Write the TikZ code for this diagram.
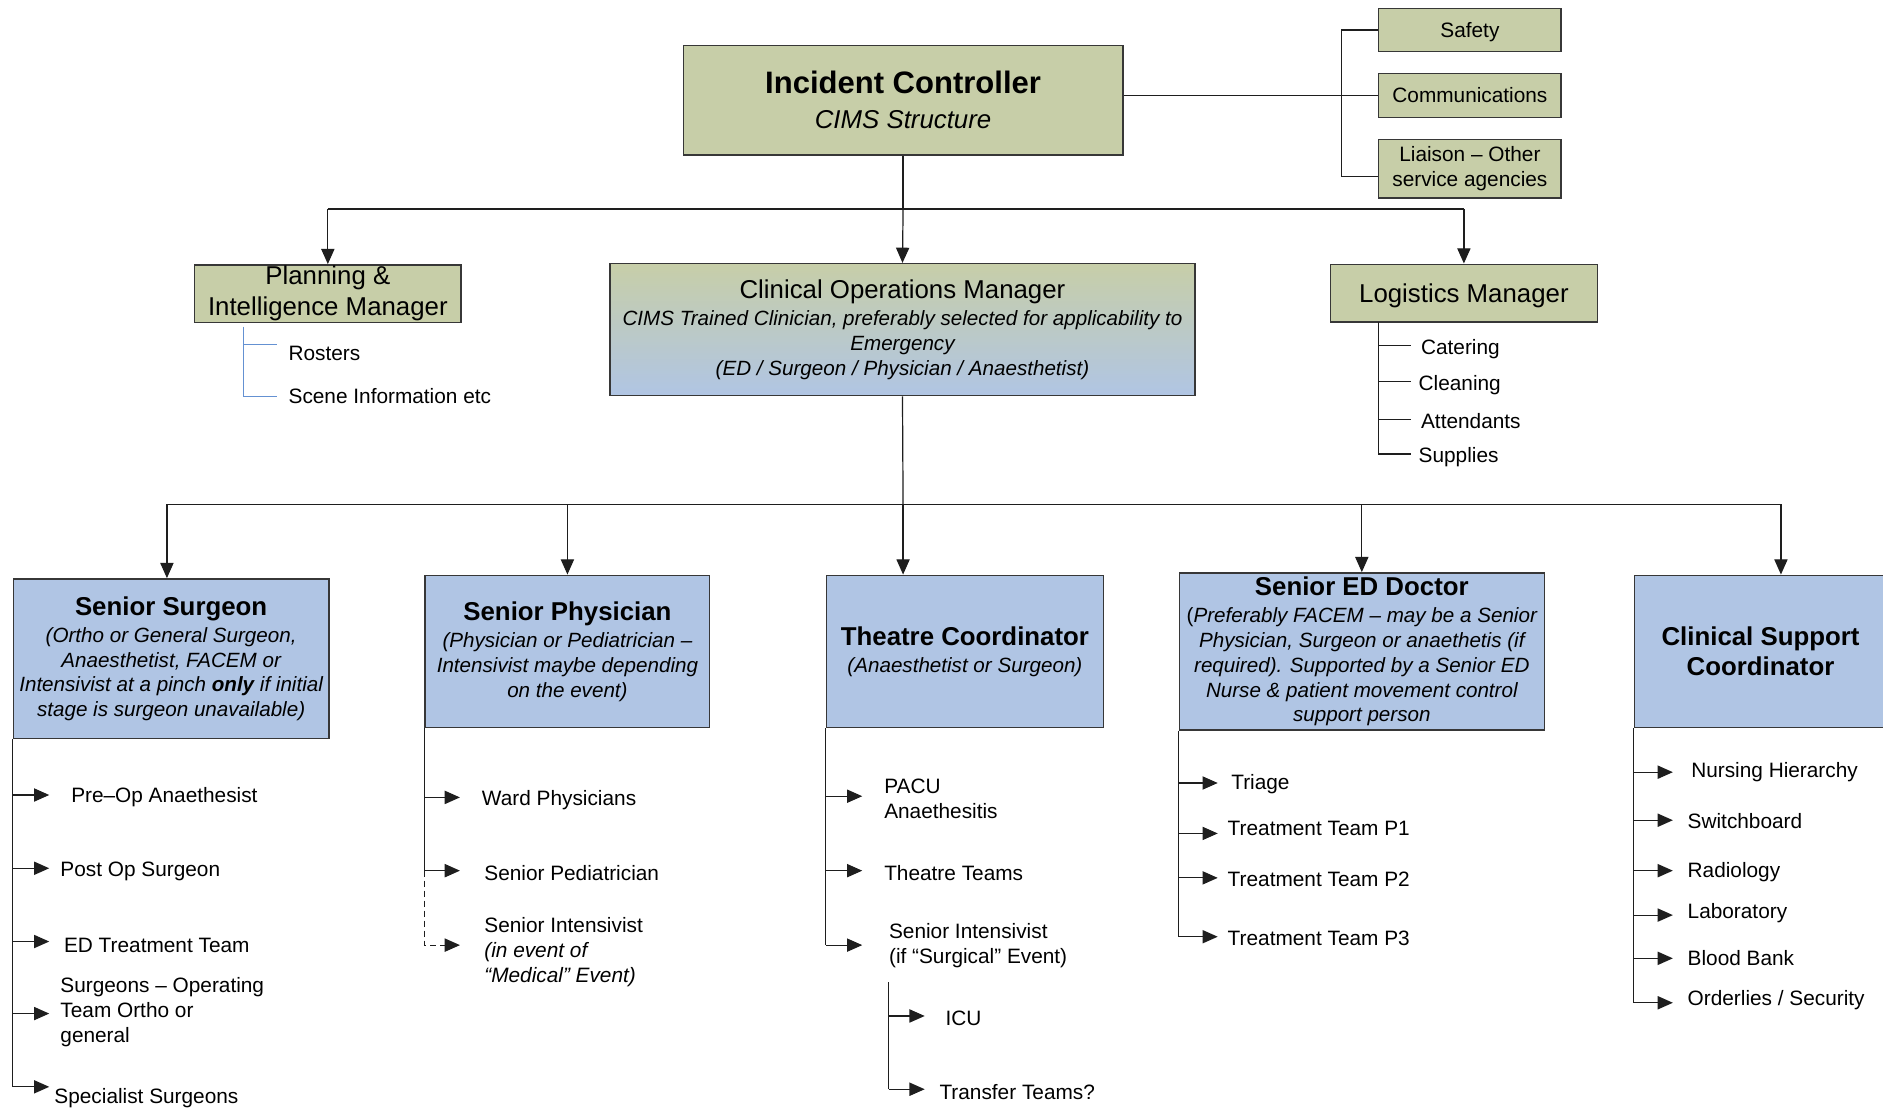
\documentclass[tikz,border=0pt]{standalone}
\usepackage{fontspec}
\setmainfont{Liberation Sans}
\usetikzlibrary{arrows.meta}
\definecolor{boxgreen}{RGB}{199,206,168}
\definecolor{boxblue}{RGB}{176,197,228}
\definecolor{boxline}{RGB}{55,55,55}
\definecolor{conncol}{RGB}{30,30,30}
\definecolor{subblue}{RGB}{100,145,210}
\newcommand\fsub{\fontsize{10.4}{12.6}\selectfont}
\newcommand\fbxit{\fontsize{10.3}{12.4}\selectfont\itshape}
\newcommand\fbxtitle{\fontsize{12.9}{15}\selectfont\bfseries\upshape}
\newcommand\fmid{\fontsize{12.9}{15.6}\selectfont\upshape}
\tikzset{
  gbox/.style={draw=boxline, fill=boxgreen, line width=0.7pt, inner sep=0pt, align=center},
  bbox/.style={draw=boxline, fill=boxblue, line width=0.7pt, inner sep=0pt, align=center},
  gradbox/.style={draw=boxline, top color=boxgreen, bottom color=boxblue, line width=0.7pt, inner sep=0pt, align=center},
  conn/.style={draw=conncol, line width=0.6pt},
  blueconn/.style={draw=subblue, line width=0.6pt},
  arr/.style={conn, -{Triangle[length=7.6pt,width=6.6pt]}},
  item/.style={anchor=west, inner sep=0pt, font=\fsub, align=left, yshift=-1.2pt},
}
\begin{document}
\begin{tikzpicture}[x=0.6pt,y=-0.6pt]
\useasboundingbox (0,0) rectangle (1568,923);
\fill[white] (0,0) rectangle (1568,923);

% ---------- top level ----------
\node[gbox, minimum width=219.6pt, minimum height=54.6pt, font=\fontsize{12.9}{17.4}\selectfont\itshape] (ic) at (752,83.5)
  {{\fontsize{15.5}{17}\selectfont\bfseries\upshape Incident Controller}\\ CIMS Structure};
\node[gbox, minimum width=91.2pt, minimum height=21.6pt, font=\fsub, text depth=0pt] (sf) at (1224,25) {Safety};
\node[gbox, minimum width=91.2pt, minimum height=22.2pt, font=\fsub] (cm) at (1224,79.5) {Communications};
\node[gbox, minimum width=91.2pt, minimum height=29.4pt, font=\fsub] (li) at (1224,140.5) {Liaison – Other\\ service agencies};

\node[gbox, minimum width=133.2pt, minimum height=28.8pt, font=\fontsize{12.9}{15.6}\selectfont] (pl) at (273,244.5)
  {Planning \&\\ Intelligence Manager};
\node[gradbox, minimum width=292.2pt, minimum height=66pt, font=\fbxit] (com) at (751.5,274.5)
  {{\fmid Clinical Operations Manager}\\[1.4pt] CIMS Trained Clinician, preferably selected for applicability to\\ Emergency\\ (ED / Surgeon / Physician / Anaesthetist)};
\node[gbox, minimum width=133.2pt, minimum height=28.8pt, font=\fmid, text depth=0pt] (lm) at (1219,244) {Logistics Manager};

% connectors top
\coordinate (brA) at (1117,25);
\coordinate (brB) at (1117,147);
\draw[conn] (cm.west -| ic.east) -- (cm.west);
\draw[conn] (sf.west) -- (brA) -- (brB) -- (brB -| li.west);

\coordinate (bus1) at (752,174);
\draw[conn] (ic.south) -- (bus1);
\draw[conn] (pl.north |- bus1) -- (lm.north |- bus1);
\draw[arr] (pl.north |- bus1) -- (pl.north);
\draw[arr] (bus1) -- (com.north);
\draw[arr] (lm.north |- bus1) -- (lm.north);

% planning sub
\coordinate (pl0) at (203,272);
\coordinate (pl1) at (231,287);
\coordinate (pl2) at (231,330);
\draw[blueconn] (pl0) -- (pl0 |- pl2) -- (pl2);
\draw[blueconn] (pl0 |- pl1) -- (pl1);
\node[item] (ros) at (240,292) {Rosters};
\node[item] (sce) at (240,328) {Scene Information etc};

% logistics sub
\coordinate (lg0) at (1148,268);
\coordinate (lg1) at (1175,288);
\coordinate (lg2) at (1175,318);
\coordinate (lg3) at (1175,349);
\coordinate (lg4) at (1175,378);
\draw[conn] (lg0) -- (lg0 |- lg4) -- (lg4);
\foreach \c in {lg1,lg2,lg3} \draw[conn] (lg0 |- \c) -- (\c);
\node[item] (cat) at (1183,289) {Catering};
\node[item] (cle) at (1181,319) {Cleaning};
\node[item] (att) at (1183,349) {Attendants};
\node[item] (sup) at (1181,379) {Supplies};

% ---------- second level ----------
\node[bbox, minimum width=157.8pt, minimum height=79.8pt, font=\fbxit] (ss) at (142.5,548.5)
  {{\fbxtitle Senior Surgeon}\\[1.2pt] (Ortho or General Surgeon,\\ Anaesthetist, FACEM or\\ Intensivist at a pinch {\bfseries only} if initial\\ stage is surgeon unavailable)};
\node[bbox, minimum width=142.2pt, minimum height=76.2pt, font=\fbxit] (sp) at (472.5,542.5)
  {{\fbxtitle Senior Physician}\\[1.2pt] (Physician or Pediatrician –\\ Intensivist maybe depending\\ on the event)};
\node[bbox, minimum width=138.6pt, minimum height=76.2pt, font=\fbxit] (tc) at (803.5,542.5)
  {{\fbxtitle Theatre Coordinator}\\[1.2pt] (Anaesthetist or Surgeon)};
\node[bbox, minimum width=182.4pt, minimum height=78.6pt, font=\fbxit] (ed) at (1134,542.5)
  {{\fbxtitle Senior ED Doctor}\\[1.2pt] {\upshape(}Preferably FACEM – may be a Senior\\ Physician, Surgeon or anaethetis (if\\ required). Supported by a Senior ED\\ Nurse \& patient movement control\\ support person};
\node[bbox, minimum width=126pt, minimum height=76.2pt, font=\fbxtitle] (cs) at (1466,542.5)
  {Clinical Support\\ Coordinator};

\coordinate (bus2) at (752,420);
\coordinate (bL) at (139,420);
\coordinate (bR) at (1483,420);
\draw[conn] (com.south) -- (bus2);
\draw[conn] (bL) -- (bR);
\draw[arr] (bL) -- (bL |- ss.north);
\draw[arr] (sp.north |- bus2) -- (sp.north);
\draw[arr] (bus2) -- (bus2 |- tc.north);
\draw[arr] (ed.north |- bus2) -- (ed.north);
\draw[arr] (bR) -- (bR |- cs.north);

% ---------- Senior Surgeon list ----------
\coordinate (ss1) at (41,662);
\coordinate (ss2) at (41,723);
\coordinate (ss3) at (41,784);
\coordinate (ss4) at (41,844);
\coordinate (ss5) at (41,905);
\draw[conn] (ss.south west) -- (ss.south west |- ss5);
\foreach \c in {ss1,ss2,ss3,ss4,ss5} \draw[arr] (ss.south west |- \c) -- (\c);
\node[item] (ssi1) at (59,662) {Pre–Op Anaethesist};
\node[item] (ssi2) at (50,724) {Post Op Surgeon};
\node[item] (ssi3) at (53,785) {ED Treatment Team};
\node[item] (ssi4) at (50,841) {Surgeons – Operating\\ Team Ortho or\\ general};
\node[item] (ssi5) at (45,912) {Specialist Surgeons};

% ---------- Senior Physician list ----------
\coordinate (sp1) at (383,664);
\coordinate (sp2) at (383,725);
\coordinate (sp3) at (383,787);
\draw[conn] (sp.south west) -- (sp.south west |- sp2);
\draw[arr] (sp.south west |- sp1) -- (sp1);
\draw[arr] (sp.south west |- sp2) -- (sp2);
\draw[arr, dash pattern=on 3pt off 2pt] (sp.south west |- sp2) -- (sp.south west |- sp3) -- (sp3);
\node[item] (spi1) at (401,664) {Ward Physicians};
\node[item] (spi2) at (403,725) {Senior Pediatrician};
\node[item] (spi3) at (403,791) {Senior Intensivist\\ \textit{(in event of}\\ \textit{“Medical” Event)}};

% ---------- Theatre list ----------
\coordinate (tc1) at (718,663);
\coordinate (tc2) at (718,725);
\coordinate (tc3) at (718,787);
\draw[conn] (tc.south west) -- (tc.south west |- tc3);
\foreach \c in {tc1,tc2,tc3} \draw[arr] (tc.south west |- \c) -- (\c);
\node[item] (tci1) at (736,663.5) {PACU\\ Anaethesitis};
\node[item] (tci2) at (736,725) {Theatre Teams};
\node[item] (tci3) at (740,785.5) {Senior Intensivist\\ (if “Surgical” Event)};
\coordinate (ts0) at (740,818);
\coordinate (ts1) at (770,846);
\coordinate (ts2) at (770,907);
\draw[conn] (ts0) -- (ts0 |- ts2);
\foreach \c in {ts1,ts2} \draw[arr] (ts0 |- \c) -- (\c);
\node[item] (tsi1) at (787,846) {ICU};
\node[item] (tsi2) at (782,907) {Transfer Teams?};

% ---------- ED list ----------
\coordinate (ed1) at (1014,652);
\coordinate (ed2) at (1014,694);
\coordinate (ed3) at (1014,731);
\coordinate (ed4) at (1014,780);
\draw[conn] (ed.south west) -- (ed.south west |- ed4);
\foreach \c in {ed1,ed2,ed3,ed4} \draw[arr] (ed.south west |- \c) -- (\c);
\node[item] (edi1) at (1025,651) {Triage};
\node[item] (edi2) at (1022,688) {Treatment Team P1};
\node[item] (edi3) at (1022,730) {Treatment Team P2};
\node[item] (edi4) at (1022,779) {Treatment Team P3};

% ---------- Clinical Support list ----------
\coordinate (cs1) at (1393,643);
\coordinate (cs2) at (1393,683);
\coordinate (cs3) at (1393,725);
\coordinate (cs4) at (1393,762);
\coordinate (cs5) at (1393,798);
\coordinate (cs6) at (1393,835);
\draw[conn] (cs.south west) -- (cs.south west |- cs6);
\foreach \c in {cs1,cs2,cs3,cs4,cs5,cs6} \draw[arr] (cs.south west |- \c) -- (\c);
\node[item] (csi1) at (1408,641) {Nursing Hierarchy};
\node[item] (csi2) at (1405,682) {Switchboard};
\node[item] (csi3) at (1405,724) {Radiology};
\node[item] (csi4) at (1405,758) {Laboratory};
\node[item] (csi5) at (1405,796) {Blood Bank};
\node[item] (csi6) at (1405,831) {Orderlies / Security};
\end{tikzpicture}
\end{document}
